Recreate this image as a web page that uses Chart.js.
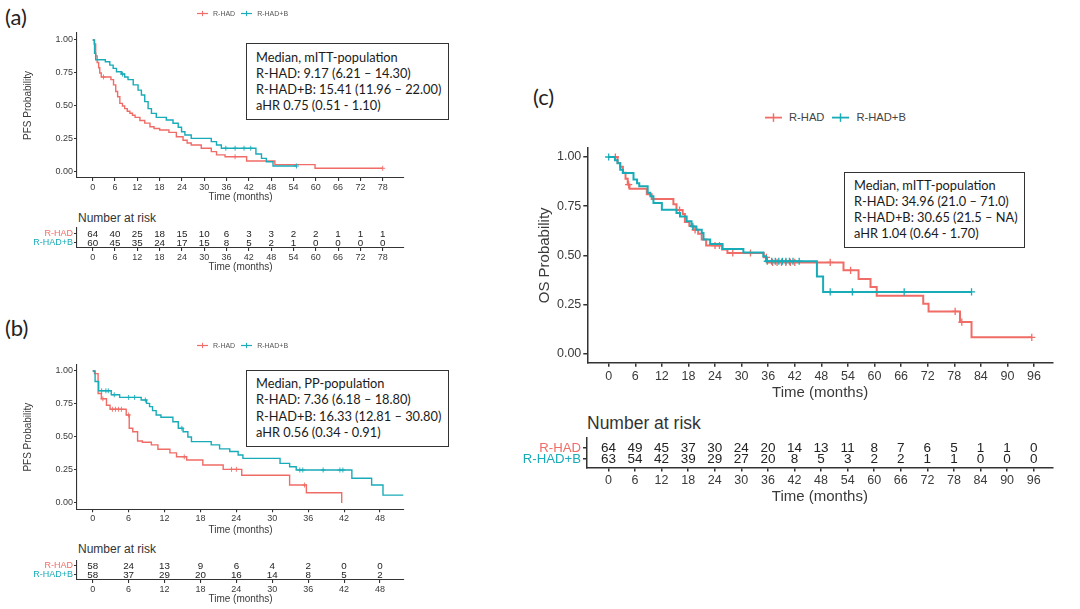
<!doctype html>
<html lang="en">
<head>
<meta charset="UTF-8">
<title>PFS and OS Kaplan-Meier curves</title>
<script src="https://cdn.jsdelivr.net/npm/chart.js@4.4.1/dist/chart.umd.min.js"></script>
<style>
  body { margin: 0; width: 1080px; height: 609px; background: #fff; position: relative; overflow: hidden; }
  canvas, .txt, .box, .lg { position: absolute; }
  .txt { font-family: "Liberation Sans", Arial, sans-serif; color: #333; white-space: nowrap; }
  .lab { font-family: Lato, sans-serif; font-size: 22px; line-height: 24px; color: #222; }
  .box { border: 1.3px solid #333; box-sizing: border-box; font-family: Lato, sans-serif; font-size: 12.8px; color: #1a1a1a; white-space: nowrap; padding-left: 9px; }
  .lg { display: flex; align-items: center; font-family: "Liberation Sans", Arial, sans-serif; color: #555; white-space: nowrap; }
  .lg svg { display: block; }
</style>
</head>
<body>
<div class="txt lab" style="left:5px;top:4.5px">(a)</div>
<div class="txt lab" style="left:5px;top:316px">(b)</div>
<div class="txt lab" style="left:533px;top:84.5px">(c)</div>

<div class="box" style="left:246px;top:43px;width:203px;height:77px;padding-top:4.5px;line-height:16.3px">
  Median, mITT-population<br>R-HAD: 9.17 (6.21 – 14.30)<br>R-HAD+B: 15.41 (11.96 – 22.00)<br>aHR 0.75 (0.51 - 1.10)
</div>
<div class="box" style="left:246px;top:370px;width:203px;height:77px;padding-top:3.7px;line-height:16.6px">
  Median, PP-population<br>R-HAD: 7.36 (6.18 – 18.80)<br>R-HAD+B: 16.33 (12.81 – 30.80)<br>aHR 0.56 (0.34 - 0.91)
</div>
<div class="box" style="left:844px;top:172px;width:181px;height:76px;padding-top:3.5px;line-height:16.3px">
  Median, mITT-population<br>R-HAD: 34.96 (21.0 – 71.0)<br>R-HAD+B: 30.65 (21.5 – NA)<br>aHR 1.04 (0.64 - 1.70)
</div>

<div class="txt" style="left:78px;top:211px;font-size:12px;line-height:14px">Number at risk</div>
<div class="txt" style="left:78px;top:542px;font-size:12px;line-height:14px">Number at risk</div>
<div class="txt" style="left:587px;top:412px;font-size:17.5px;line-height:22px">Number at risk</div>

<script>
const FONT = '"Liberation Sans", Arial, sans-serif';
const groups = ['R-HAD', 'R-HAD+B'];
const colors = ['#F06C66', '#18ABB8'];
const yTicks = [0, 0.25, 0.5, 0.75, 1];

// (a) PFS, mITT population
const xTicksA = [0, 6, 12, 18, 24, 30, 36, 42, 48, 54, 60, 66, 72, 78];
const timeHadA = [0, 0.4, 0.8, 1.2, 1.6, 1.9, 2.3, 4.9, 5.6, 6.2, 6.7, 7.3, 8.0, 8.6, 9.3, 10.0, 10.7, 11.4, 12.7, 14.0, 15.4, 16.5, 18.0, 20.5, 22.5, 24.3, 25.4, 26.5, 29.2, 31.9, 33.3, 35.6, 41.4, 49.0, 59.8, 78.0];
const survHadA = [1, 0.97, 0.88, 0.83, 0.79, 0.75, 0.72, 0.70, 0.66, 0.61, 0.57, 0.52, 0.50, 0.48, 0.46, 0.445, 0.43, 0.414, 0.39, 0.37, 0.343, 0.33, 0.318, 0.30, 0.267, 0.24, 0.22, 0.205, 0.18, 0.154, 0.13, 0.116, 0.083, 0.056, 0.028, 0.028];
const censHadA = [2.9, 38.3, 78.0];
const timeHadBA = [0, 0.5, 0.8, 3.4, 4.6, 5.5, 6.4, 7.7, 8.6, 9.5, 10.9, 12.2, 13.1, 14.0, 14.9, 15.8, 17.1, 19.8, 21.6, 23.0, 23.9, 24.8, 26.5, 31.9, 33.3, 34.6, 43.9, 45.4, 46.7, 48.5, 54.8];
const survHadBA = [1, 0.90, 0.85, 0.835, 0.81, 0.785, 0.76, 0.742, 0.72, 0.70, 0.66, 0.62, 0.583, 0.533, 0.48, 0.444, 0.414, 0.394, 0.369, 0.339, 0.305, 0.28, 0.255, 0.23, 0.205, 0.18, 0.136, 0.103, 0.078, 0.045, 0.045];
const censHadBA = [8.0, 35.8, 38.3, 40.7, 42.5, 54.8];
const riskHadA = [64, 40, 25, 18, 15, 10, 6, 3, 3, 2, 2, 1, 1, 1];
const riskHadBA = [60, 45, 35, 24, 17, 15, 8, 5, 2, 1, 0, 0, 0, 0];

// (b) PFS, PP population
const xTicksB = [0, 6, 12, 18, 24, 30, 36, 42, 48];
const timeHadB = [0, 0.3, 0.9, 1.45, 2.3, 2.9, 5.6, 6.1, 6.7, 7.5, 8.3, 9.8, 10.9, 12.9, 14.0, 15.7, 18.4, 21.8, 24.9, 32.9, 35.7, 41.6];
const survHadB = [1, 0.98, 0.83, 0.79, 0.74, 0.71, 0.667, 0.566, 0.54, 0.47, 0.46, 0.44, 0.407, 0.38, 0.35, 0.326, 0.288, 0.255, 0.21, 0.136, 0.078, 0.0];
const censHadB = [1.7, 3.3, 3.8, 4.3, 4.8, 6.0, 15.3, 23.2, 24.0, 35.4];
const timeHadBB = [0, 0.4, 1.0, 3.1, 4.5, 8.1, 9.0, 9.5, 10.0, 10.6, 11.4, 13.4, 14.3, 15.1, 15.9, 16.5, 19.8, 21.2, 22.9, 24.3, 25.1, 31.3, 32.9, 34.0, 43.3, 46.6, 48.5, 51.9];
const survHadBB = [1, 0.92, 0.85, 0.82, 0.80, 0.78, 0.755, 0.73, 0.70, 0.667, 0.65, 0.616, 0.566, 0.54, 0.50, 0.465, 0.44, 0.41, 0.39, 0.364, 0.338, 0.30, 0.275, 0.25, 0.187, 0.136, 0.06, 0.06];
const censHadBB = [1.5, 2.2, 2.6, 3.6, 6.0, 7.0, 8.8, 14.9, 34.6, 35.1, 38.5, 41.3, 41.8];
const riskHadB = [58, 24, 13, 9, 6, 4, 2, 0, 0];
const riskHadBB = [58, 37, 29, 20, 16, 14, 8, 5, 2];

// (c) OS, mITT population
const xTicksC = [0, 6, 12, 18, 24, 30, 36, 42, 48, 54, 60, 66, 72, 78, 84, 90, 96];
const timeHadC = [0, 2.0, 2.6, 3.2, 3.8, 4.3, 4.7, 8.6, 9.7, 14.6, 15.3, 16.7, 17.2, 18.2, 19.1, 20.2, 21.0, 22.0, 25.6, 26.8, 35.0, 35.7, 53.0, 56.4, 59.1, 60.5, 71.0, 72.2, 79.3, 81.9, 95.5];
const survHadC = [1, 0.97, 0.95, 0.92, 0.89, 0.86, 0.839, 0.81, 0.786, 0.76, 0.73, 0.71, 0.67, 0.65, 0.63, 0.61, 0.58, 0.55, 0.53, 0.512, 0.49, 0.464, 0.424, 0.38, 0.339, 0.295, 0.254, 0.215, 0.161, 0.083, 0.083];
const censHadC = [1.5, 4.5, 16.0, 19.5, 24.0, 25.0, 28.0, 32.0, 35.6, 37.0, 38.0, 39.0, 40.0, 41.0, 42.0, 50.0, 54.6, 78.2, 79.7, 95.5];
const timeHadBC = [0, 1.4, 2.0, 2.6, 3.2, 5.6, 6.4, 6.9, 8.8, 9.4, 10.1, 12.0, 15.3, 16.1, 17.6, 18.7, 19.8, 21.0, 21.4, 22.9, 25.7, 30.4, 34.9, 35.5, 47.0, 48.4, 81.9];
const survHadBC = [1, 0.984, 0.968, 0.935, 0.919, 0.885, 0.867, 0.851, 0.818, 0.80, 0.766, 0.732, 0.715, 0.698, 0.673, 0.647, 0.63, 0.614, 0.58, 0.558, 0.532, 0.515, 0.495, 0.47, 0.393, 0.314, 0.314];
const censHadBC = [0, 19.0, 35.8, 36.8, 37.6, 38.4, 39.2, 40.0, 40.8, 41.6, 43.0, 50.0, 55.0, 66.7, 81.9];
const riskHadC = [64, 49, 45, 37, 30, 24, 20, 14, 13, 11, 8, 7, 6, 5, 1, 1, 0];
const riskHadBC = [63, 54, 42, 39, 29, 27, 20, 8, 5, 3, 2, 2, 1, 1, 0, 0, 0];

// page layout: chart areas in page pixels plus two value/pixel anchors per axis
const LA = { area: { l: 77, r: 404, t: 33, b: 178 }, xa: [0, 92.7, 78, 382.7], ya: [0, 172, 1, 40], pad: { l: 55, t: 14, r: 6, b: 24.7 } };
const RA = { area: { l: 77, r: 404, t: 228, b: 248 }, xa: [0, 92.7, 78, 382.7], rows: [234, 243], pad: { l: 62, t: 14, r: 6, b: 24.7 } };
const LB = { area: { l: 77, r: 404, t: 365, b: 509.3 }, xa: [0, 92.7, 48, 380], ya: [0, 503, 1, 371], pad: { l: 55, t: 14, r: 6, b: 26.7 } };
const RB = { area: { l: 77, r: 404, t: 561, b: 580 }, xa: [0, 92.7, 48, 380], rows: [565.7, 574.3], pad: { l: 62, t: 14, r: 6, b: 25.3 } };
const LC = { area: { l: 587.3, r: 1053, t: 148.3, b: 363 }, xa: [0, 608.7, 96, 1034], ya: [0, 354, 1, 157.3], pad: { l: 51.3, t: 16, r: 20, b: 39.3 } };
const RC = { area: { l: 587.3, r: 1053, t: 438.3, b: 467.7 }, xa: [0, 608.7, 96, 1034], rows: [448.3, 459.5], pad: { l: 85, t: 16, r: 20, b: 39 } };

const small = { tf: 9, titf: 10, tc: '#3a3a3a', tl: 3, tp: 1, ac: '#333', aw: 1.1, lw: 1.4, cr: 2.5, cw: 0.9, nf: 9.8, rf: 9 };
const big = { tf: 12.5, titf: 15, tc: '#3a3a3a', tl: 4, tp: 2, ac: '#333', aw: 1.5, lw: 2, cr: 3.6, cw: 1.3, nf: 13.5, rf: 13.2 };

const lin = (v0, p0, v1, p1, p) => v0 + (p - p0) * (v1 - v0) / (p1 - p0);

function survAt(times, surv, t) {
  let v = surv[0];
  for (let i = 0; i < times.length; i++) if (times[i] <= t) v = surv[i];
  return v;
}

function makeCanvas(L) {
  const aw = L.area.r - L.area.l, ah = L.area.b - L.area.t;
  const w = Math.round(aw + L.pad.l + L.pad.r), h = Math.round(ah + L.pad.t + L.pad.b);
  const c = document.createElement('canvas');
  c.width = w; c.height = h;
  Object.assign(c.style, { left: (L.area.l - L.pad.l) + 'px', top: (L.area.t - L.pad.t) + 'px', width: w + 'px', height: h + 'px' });
  document.body.appendChild(c);
  return { c, padR: w - L.pad.l - aw, xh: h - L.pad.t - ah };
}

function axis(dir, range, ticks, fmt, title, st, size, tickColor) {
  return {
    type: 'linear', min: range[0], max: range[1],
    afterBuildTicks: s => { s.ticks = ticks.map(v => ({ value: v })); },
    afterFit: s => { if (dir === 'x') s.height = size; else s.width = size; },
    ticks: { autoSkip: false, maxRotation: 0, padding: st.tp, color: tickColor || st.tc, font: { family: FONT, size: dir === 'y' && tickColor ? st.rf : st.tf }, callback: fmt },
    grid: { drawOnChartArea: false, drawTicks: true, tickLength: st.tl, color: st.ac, lineWidth: st.aw },
    border: { display: true, color: st.ac, width: st.aw },
    title: { display: !!title, text: title, color: st.tc, font: { family: FONT, size: st.titf }, padding: 0 }
  };
}

function kmChart(L, series, xTicks, yTitle, st) {
  const m = makeCanvas(L);
  const xr = [lin(L.xa[0], L.xa[1], L.xa[2], L.xa[3], L.area.l), lin(L.xa[0], L.xa[1], L.xa[2], L.xa[3], L.area.r)];
  const yr = [lin(L.ya[0], L.ya[1], L.ya[2], L.ya[3], L.area.b), lin(L.ya[0], L.ya[1], L.ya[2], L.ya[3], L.area.t)];
  const datasets = [];
  series.forEach(s => {
    datasets.push({ type: 'line', data: s.t.map((t, i) => ({ x: t, y: s.s[i] })), stepped: true,
      borderColor: s.color, borderWidth: st.lw, pointRadius: 0, fill: false, order: s.order });
    datasets.push({ type: 'scatter', data: s.cens.map(t => ({ x: t, y: survAt(s.t, s.s, t) })),
      pointStyle: 'cross', pointRadius: st.cr, pointBorderWidth: st.cw, borderWidth: st.cw,
      borderColor: s.color, backgroundColor: s.color, order: s.order });
  });
  new Chart(m.c, {
    type: 'line',
    data: { datasets },
    options: {
      responsive: false, animation: false, events: [],
      layout: { padding: { left: 0, top: L.pad.t, right: m.padR, bottom: 0 } },
      plugins: { legend: { display: false }, tooltip: { enabled: false } },
      scales: {
        x: axis('x', xr, xTicks, v => String(v), 'Time (months)', st, m.xh),
        y: axis('y', yr, yTicks, v => v.toFixed(2), yTitle, st, L.pad.l)
      }
    }
  });
}

const riskText = {
  id: 'riskText',
  afterDatasetsDraw(chart, args, opts) {
    const ctx = chart.ctx;
    ctx.save();
    ctx.font = opts.size + 'px ' + FONT;
    ctx.fillStyle = opts.color;
    ctx.textAlign = 'center';
    ctx.textBaseline = 'middle';
    chart.data.datasets.forEach((ds, k) => {
      chart.getDatasetMeta(k).data.forEach((pt, i) => ctx.fillText(String(ds.data[i].n), pt.x, pt.y + 0.5));
    });
    ctx.restore();
  }
};

function riskChart(L, xTicks, rows, st) {
  const m = makeCanvas(L);
  const xr = [lin(L.xa[0], L.xa[1], L.xa[2], L.xa[3], L.area.l), lin(L.xa[0], L.xa[1], L.xa[2], L.xa[3], L.area.r)];
  const yr = [lin(1, L.rows[0], 0, L.rows[1], L.area.b), lin(1, L.rows[0], 0, L.rows[1], L.area.t)];
  const datasets = rows.map((vals, k) => ({
    type: 'scatter', data: xTicks.map((t, i) => ({ x: t, y: 1 - k, n: vals[i] })), pointRadius: 0
  }));
  new Chart(m.c, {
    type: 'scatter',
    data: { datasets },
    plugins: [riskText],
    options: {
      responsive: false, animation: false, events: [],
      layout: { padding: { left: 0, top: L.pad.t, right: m.padR, bottom: 0 } },
      plugins: { legend: { display: false }, tooltip: { enabled: false }, riskText: { size: st.nf, color: '#222' } },
      scales: {
        x: axis('x', xr, xTicks, v => String(v), 'Time (months)', st, m.xh),
        y: axis('y', yr, [1, 0], v => groups[1 - v], '', st, L.pad.l, c => colors[1 - c.tick.value])
      }
    }
  });
}

function legend(left, yc, size, sw, g1, g2, lw, color) {
  const d = document.createElement('div');
  d.className = 'lg';
  d.style.cssText = `left:${left}px;top:${yc - size}px;height:${2 * size}px;font-size:${size}px;color:${color}`;
  groups.forEach((g, k) => {
    const col = colors[k];
    d.insertAdjacentHTML('beforeend',
      `<svg width="${sw}" height="${size}" style="margin-right:${g1}px"><line x1="0" y1="${size / 2}" x2="${sw}" y2="${size / 2}" stroke="${col}" stroke-width="${lw}"/>` +
      `<line x1="${sw / 2}" y1="${size * 0.12}" x2="${sw / 2}" y2="${size * 0.88}" stroke="${col}" stroke-width="${lw * 0.8}"/></svg>` +
      `<span style="margin-right:${g2}px">${g}</span>`);
  });
  document.body.appendChild(d);
}

kmChart(LA, [
  { t: timeHadBA, s: survHadBA, cens: censHadBA, color: colors[1], order: 0 },
  { t: timeHadA, s: survHadA, cens: censHadA, color: colors[0], order: 1 }
], xTicksA, 'PFS Probability', small);
riskChart(RA, xTicksA, [riskHadA, riskHadBA], small);

kmChart(LB, [
  { t: timeHadBB, s: survHadBB, cens: censHadBB, color: colors[1], order: 0 },
  { t: timeHadB, s: survHadB, cens: censHadB, color: colors[0], order: 1 }
], xTicksB, 'PFS Probability', small);
riskChart(RB, xTicksB, [riskHadB, riskHadBB], small);

kmChart(LC, [
  { t: timeHadBC, s: survHadBC, cens: censHadBC, color: colors[1], order: 0 },
  { t: timeHadC, s: survHadC, cens: censHadC, color: colors[0], order: 1 }
], xTicksC, 'OS Probability', big);
riskChart(RC, xTicksC, [riskHadC, riskHadBC], big);

legend(197, 13.3, 7, 11, 5, 6, 1.2, '#555');
legend(197, 345, 7, 11, 5, 6, 1.2, '#555');
legend(765, 117.3, 11.2, 17, 7, 8, 1.8, '#444');
</script>
</body>
</html>
